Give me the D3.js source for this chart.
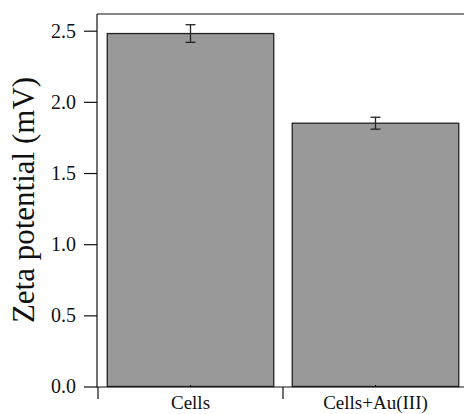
<!DOCTYPE html>
<html>
<head>
<meta charset="utf-8">
<script src="https://cdn.jsdelivr.net/npm/d3@7"></script>
<style>
    body { margin: 0; background: #fff; }
    text { font-family: "Liberation Serif", "Times New Roman", serif; fill: #111; }
</style>
</head>
<body>
<div class="container"></div>
<script>
const categories = ["Cells", "Cells+Au(III)"];
const values = [2.48, 1.85];
const errors = [0.062, 0.042];
const yTicks = [0, 0.5, 1.0, 1.5, 2.0, 2.5];

const width = 464;
const height = 414;
const margin = { top: 14, right: -4, bottom: 27, left: 97 };

const svg = d3.select(".container")
    .append("svg")
    .attr("width", width)
    .attr("height", height);

const x = d3.scaleBand()
    .domain(categories)
    .range([margin.left + 1, width - margin.right])
    .paddingInner(0.1)
    .paddingOuter(0.05);

const y = d3.scaleLinear()
    .domain([0, 2.5])
    .range([386.5, 30.7]);

// frame top
svg.append("line")
    .attr("x1", margin.left).attr("x2", width)
    .attr("y1", margin.top).attr("y2", margin.top)
    .attr("stroke", "#111").attr("stroke-width", 1.2);

// bars
svg.selectAll("rect.bar")
    .data(values)
    .enter()
    .append("rect")
    .attr("class", "bar")
    .attr("x", (d, i) => x(categories[i]))
    .attr("y", (d) => y(d))
    .attr("width", x.bandwidth())
    .attr("height", (d) => y(0) - y(d))
    .attr("fill", "#999999")
    .attr("stroke", "#222")
    .attr("stroke-width", 1.3);

// error bars
const cx = (i) => x(categories[i]) + x.bandwidth() / 2;
const err = svg.selectAll("g.err")
    .data(values)
    .enter()
    .append("g")
    .attr("class", "err")
    .attr("stroke", "#222")
    .attr("stroke-width", 1.3);

err.append("line")
    .attr("x1", (d, i) => cx(i)).attr("x2", (d, i) => cx(i))
    .attr("y1", (d, i) => y(d + errors[i])).attr("y2", (d, i) => y(d - errors[i]));
err.append("line")
    .attr("x1", (d, i) => cx(i) - 5).attr("x2", (d, i) => cx(i) + 5)
    .attr("y1", (d, i) => y(d + errors[i])).attr("y2", (d, i) => y(d + errors[i]));
err.append("line")
    .attr("x1", (d, i) => cx(i) - 5).attr("x2", (d, i) => cx(i) + 5)
    .attr("y1", (d, i) => y(d - errors[i])).attr("y2", (d, i) => y(d - errors[i]));

// y axis
const yAxis = svg.append("g")
    .attr("transform", `translate(${margin.left},0)`)
    .call(d3.axisLeft(y).tickValues(yTicks).tickFormat(d3.format(".1f")).tickSize(13).tickPadding(8));
yAxis.select(".domain").remove();
yAxis.append("line")
    .attr("x1", 0).attr("x2", 0)
    .attr("y1", margin.top).attr("y2", y(0) + 1)
    .attr("stroke", "#111").attr("stroke-width", 1.2);
yAxis.selectAll(".tick line").attr("stroke", "#111").attr("stroke-width", 1.2);
yAxis.selectAll(".tick text").attr("font-size", "20px").attr("fill", "#111")
    .style("font-family", "'Liberation Serif', serif");

// x axis
const baseY = y(0) + 0.5;
const xAxis = svg.append("g");
xAxis.append("line")
    .attr("x1", margin.left).attr("x2", width)
    .attr("y1", baseY).attr("y2", baseY)
    .attr("stroke", "#111").attr("stroke-width", 1.2);

const step = x.step();
const bounds = categories.map((c, i) => x(c) - step * x.paddingInner() / 2);
xAxis.selectAll("line.major")
    .data(bounds)
    .enter()
    .append("line")
    .attr("class", "major")
    .attr("x1", (d, i) => i === 0 ? margin.left + 1 : d)
    .attr("x2", (d, i) => i === 0 ? margin.left + 1 : d)
    .attr("y1", baseY).attr("y2", baseY + 12)
    .attr("stroke", "#111").attr("stroke-width", 1.2);

xAxis.selectAll("line.minor")
    .data(categories)
    .enter()
    .append("line")
    .attr("class", "minor")
    .attr("x1", (d, i) => cx(i)).attr("x2", (d, i) => cx(i))
    .attr("y1", baseY).attr("y2", baseY - 2)
    .attr("stroke", "#111").attr("stroke-width", 1);

xAxis.selectAll("text.cat")
    .data(categories)
    .enter()
    .append("text")
    .attr("class", "cat")
    .attr("x", (d, i) => cx(i))
    .attr("y", 409)
    .attr("text-anchor", "middle")
    .attr("font-size", "19px")
    .text((d) => d);

// y title
svg.append("text")
    .attr("transform", `translate(34,200) rotate(-90)`)
    .attr("text-anchor", "middle")
    .attr("font-size", "31px")
    .text("Zeta potential (mV)");
</script>
</body>
</html>
